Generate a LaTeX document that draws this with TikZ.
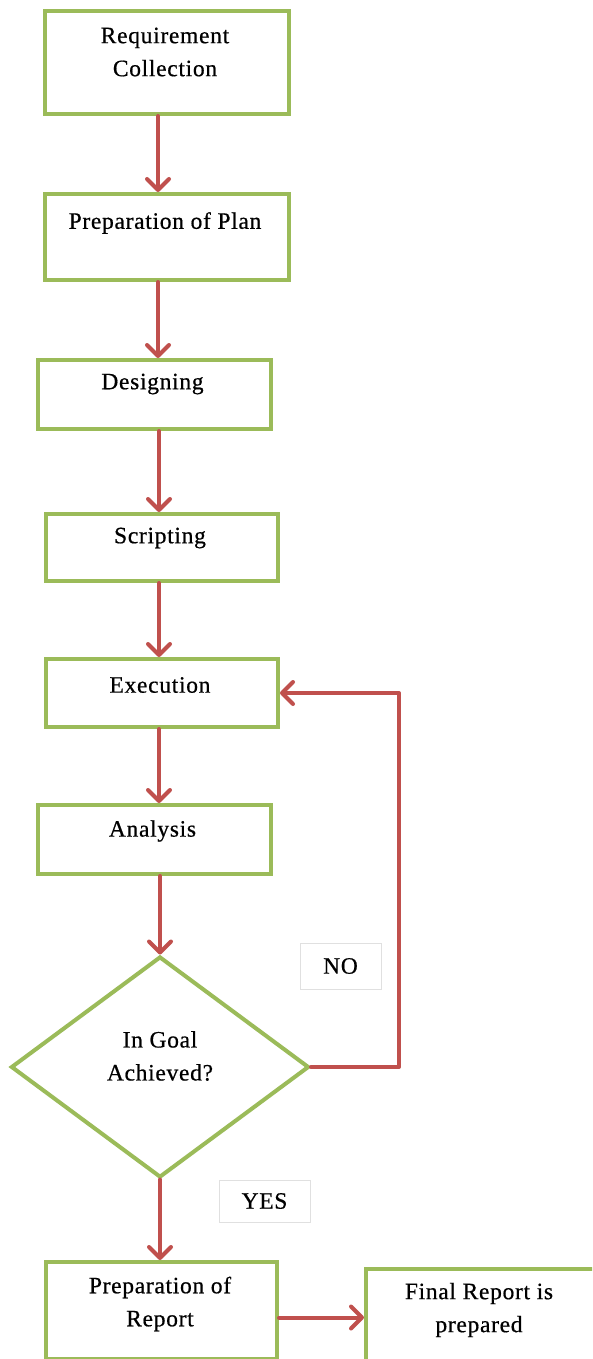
\documentclass[tikz,border=0pt]{standalone}
\usepackage{fontspec}
\setmainfont{Liberation Serif}[LetterSpace=3,FakeBold=0.6]
\usetikzlibrary{arrows.meta,shapes.geometric}
\definecolor{boxgreen}{HTML}{9BBB59}
\definecolor{arrred}{HTML}{C0504D}
\begin{document}
\begin{tikzpicture}[x=1pt,y=-1pt,
  stepbox/.style={draw=boxgreen, line width=4pt, fill=white, rectangle, inner sep=0pt, anchor=north west},
  decbox/.style={draw=boxgreen, line width=4pt, fill=white, diamond, inner sep=0pt},
  txt/.style={font=\fontsize{23.5}{33}\selectfont, align=center, inner sep=0pt},
  lblbox/.style={draw=black!12, line width=0.8pt, fill=white, inner sep=0pt, font=\fontsize{23.5}{33}\selectfont},
  conn/.style={draw=arrred, line width=4pt, line cap=round, line join=round,
    -{Straight Barb[length=11pt,width=22pt,line cap=round,line join=round]}}]
\useasboundingbox (0,0) rectangle (592,1359);
\clip (0,0) rectangle (592,1359);
\fill[white] (0,0) rectangle (592,1359);

% boxes
\node[stepbox, minimum width=244pt, minimum height=103pt] (b1) at (43,9) {};
\node[stepbox, minimum width=244pt, minimum height=86pt] (b2) at (43,192) {};
\node[stepbox, minimum width=233pt, minimum height=69pt] (b3) at (36,358) {};
\node[stepbox, minimum width=232pt, minimum height=67pt] (b4) at (44,512) {};
\node[stepbox, minimum width=232pt, minimum height=68pt] (b5) at (44,657) {};
\node[stepbox, minimum width=233pt, minimum height=69pt] (b6) at (36,803) {};
\node[decbox, minimum width=298pt, minimum height=221pt] (d) at (160,1067) {};
\node[stepbox, minimum width=231pt, minimum height=97pt] (b8) at (44,1260) {};
\node[stepbox, minimum width=250pt, minimum height=110pt] (b9) at (364,1267) {};

% texts
\node[txt] (t1) at (165,52) {Requirement\\Collection};
\node[txt] (t2) at (165,223) {Preparation of Plan};
\node[txt] (t3) at (152.5,384) {Designing};
\node[txt] (t4) at (160,538) {Scripting};
\node[txt] (t5) at (160,685) {Execution};
\node[txt] (t6) at (152.5,831) {Analysis};
\node[txt] (td) at (160,1056) {In Goal\\Achieved?};
\node[txt] (t8) at (160,1304) {Preparation of\\Report};
\node[txt] (t9) at (479,1310) {Final Report is\\prepared};

% labels
\node[lblbox, minimum width=81pt, minimum height=46pt] (no) at (340.5,966) {NO};
\node[lblbox, minimum width=91pt, minimum height=42pt] (yes) at (264.5,1201) {YES};

% connectors
\draw[conn] ([xshift=-9pt]b1.south) -- ([xshift=-9pt]b2.north);
\draw[conn] ([xshift=-9pt]b2.south) -- ([xshift=-9pt]b2.south |- b3.north);
\draw[conn] ([xshift=4.5pt]b3.south) -- ([xshift=-3pt]b4.north);
\draw[conn] ([xshift=-3pt]b4.south) -- ([xshift=-3pt]b5.north);
\draw[conn] ([xshift=-3pt]b5.south) -- ([xshift=4.5pt]b6.north);
\draw[conn] (b6.south -| d.north) -- (d.north);
\draw[conn] (d.south) -- (d.south |- b8.north);
\draw[conn] ([yshift=-7pt]b8.east) -- ([yshift=-7pt]b8.east -| b9.west);
\draw[conn] (d.east) -- ++(88,0) |- (b5.east);
\end{tikzpicture}
\end{document}
